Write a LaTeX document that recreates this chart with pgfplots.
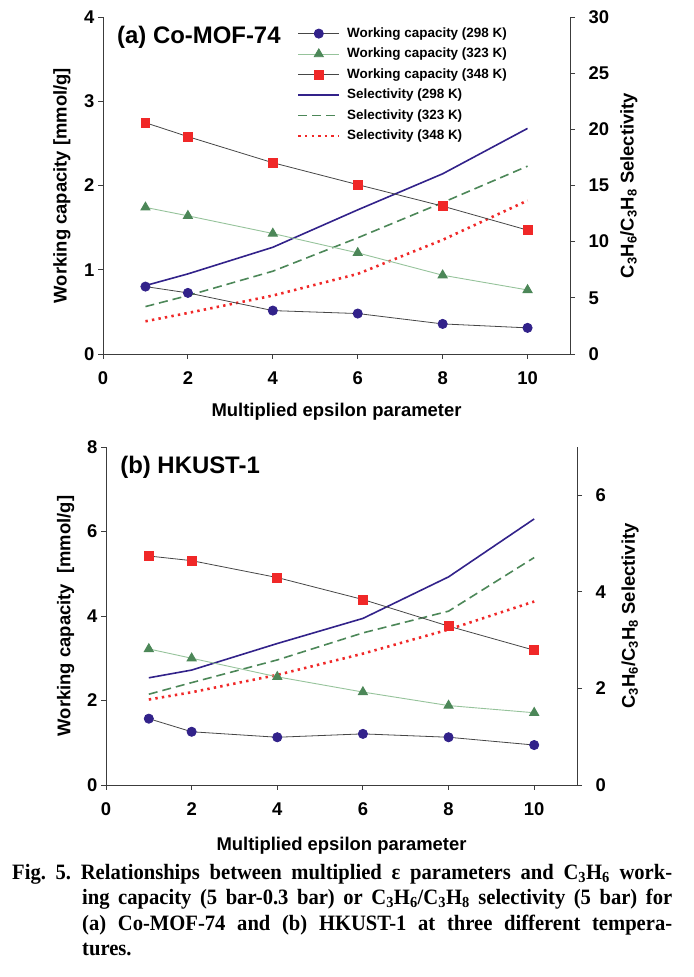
\documentclass[border=0pt]{standalone}
\usepackage{pgfplots}
\pgfplotsset{compat=1.18}
\usepackage{fontspec}
\setmainfont{Liberation Sans}
\newfontfamily\capfont[FakeStretch=0.94]{Liberation Serif}
\definecolor{cindigo}{RGB}{50,34,138}
\definecolor{cgreen}{RGB}{76,135,88}
\definecolor{clgreen}{RGB}{150,195,155}
\definecolor{cred}{RGB}{240,40,40}
\definecolor{cgray}{RGB}{70,70,70}
\definecolor{axisgray}{RGB}{60,60,60}

\pgfplotsset{
  twin/.style={
    scale only axis, xmin=0, xmax=11,
    tick align=outside, major tick length=5bp,
    axis line style={-, draw=axisgray, line width=0.9bp},
    tick style={draw=axisgray, line width=0.9bp},
    /pgf/number format/assume math mode=true,
    tick label style={font=\bfseries\fontsize{18.5}{18.5}\selectfont},
    label style={font=\bfseries\fontsize{18.5}{19}\selectfont},
  },
  wc298/.style={draw=cgray, line width=0.8bp, mark=*, mark size=4.6bp, mark options={draw=cindigo, fill=cindigo, solid}},
  wc323/.style={draw=clgreen, line width=0.9bp, mark=triangle*, mark size=5.2bp, mark options={draw=cgreen, fill=cgreen, solid}},
  wc348/.style={draw=cgray, line width=0.8bp, mark=square*, mark size=4.4bp, mark options={draw=cred, fill=cred, solid}},
  s298/.style={draw=cindigo, line width=1.6bp, no markers},
  s323/.style={draw=cgreen, line width=1.6bp, dash pattern=on 9bp off 5bp, no markers},
  s348/.style={draw=cred, line width=2.6bp, dash pattern=on 2.4bp off 4.2bp, no markers},
}

\begin{document}
\begin{tikzpicture}[x=1bp,y=1bp]
\path[use as bounding box] (0,0) rectangle (694,977);

% ---------------- Panel (a) ----------------
\begin{axis}[twin, at={(103bp,623bp)}, anchor=south west, width=467bp, height=337bp,
  axis x line=none, axis y line*=right, ymin=0, ymax=30, ytick={0,5,...,30},
  yticklabel style={xshift=10bp},
  ylabel={C\textsubscript{3}H\textsubscript{6}/C\textsubscript{3}H\textsubscript{8} Selectivity},
  ylabel style={at={(axis description cs:1.10,0.5)}, anchor=north}]
\addplot[s298] coordinates {(1,6.09)(2,7.13)(4,9.5)(6,12.83)(8,16.04)(10,20.08)};
\addplot[s323] coordinates {(1,4.22)(2,5.2)(4,7.37)(6,10.34)(8,13.48)(10,16.72)};
\addplot[s348] coordinates {(1,2.91)(2,3.65)(4,5.2)(6,7.13)(8,10.16)(10,13.66)};
\end{axis}

\begin{axis}[twin, at={(103bp,623bp)}, anchor=south west, width=467bp, height=337bp,
  axis x line*=bottom, axis y line*=left, ymin=0, ymax=4, ytick={0,1,2,3,4},
  xtick={0,2,4,6,8,10}, xticklabel style={yshift=-9bp},
  xlabel={Multiplied epsilon parameter},
  xlabel style={at={(axis description cs:0.5,-0.135)}, anchor=north},
  ylabel={Working capacity [mmol/g]},
  ylabel style={at={(axis description cs:-0.062,0.5)}, anchor=south},
  legend style={at={(axis description cs:0.415,0.975)}, anchor=north west, draw=none, fill=none,
    font=\bfseries\fontsize{13.5}{14}\selectfont, row sep=4.5bp, inner sep=0pt,
    nodes={inner sep=1.5bp, text height=10bp, text depth=3bp},
    /tikz/every odd column/.append style={column sep=5bp}},
  legend cell align=left,
  legend image code/.code={\draw[mark repeat=2, mark phase=2, #1] plot coordinates {(0bp,0bp) (20.5bp,0bp) (41bp,0bp)};}]
\addplot[wc298] coordinates {(1,0.80)(2,0.725)(4,0.515)(6,0.48)(8,0.357)(10,0.31)};
\addlegendentry{Working capacity (298 K)}
\addplot[wc323] coordinates {(1,1.74)(2,1.64)(4,1.43)(6,1.20)(8,0.935)(10,0.76)};
\addlegendentry{Working capacity (323 K)}
\addplot[wc348] coordinates {(1,2.745)(2,2.58)(4,2.27)(6,2.01)(8,1.755)(10,1.47)};
\addlegendentry{Working capacity (348 K)}
\addlegendimage{s298}\addlegendentry{Selectivity (298 K)}
\addlegendimage{s323}\addlegendentry{Selectivity (323 K)}
\addlegendimage{s348}\addlegendentry{Selectivity (348 K)}
\node[anchor=north west, inner sep=0pt, font=\bfseries\fontsize{24}{24}\selectfont] at (axis description cs:0.03,0.972) {(a) Co-MOF-74};
\end{axis}

% ---------------- Panel (b) ----------------
\begin{axis}[twin, at={(106bp,192bp)}, anchor=south west, width=471bp, height=338bp,
  axis x line=none, axis y line*=right, ymin=0, ymax=7, ytick={0,2,4,6},
  yticklabel style={xshift=10bp},
  ylabel={C\textsubscript{3}H\textsubscript{6}/C\textsubscript{3}H\textsubscript{8} Selectivity},
  ylabel style={at={(axis description cs:1.087,0.5)}, anchor=north}]
\addplot[s298] coordinates {(1,2.22)(2,2.38)(4,2.93)(6,3.45)(8,4.31)(10,5.51)};
\addplot[s323] coordinates {(1,1.88)(2,2.12)(4,2.59)(6,3.15)(8,3.6)(10,4.71)};
\addplot[s348] coordinates {(1,1.77)(2,1.92)(4,2.28)(6,2.72)(8,3.22)(10,3.8)};
\end{axis}

\begin{axis}[twin, at={(106bp,192bp)}, anchor=south west, width=471bp, height=338bp,
  axis x line*=bottom, axis y line*=left, ymin=0, ymax=8, ytick={0,2,4,6,8},
  xtick={0,2,4,6,8,10}, xticklabel style={yshift=-9bp},
  xlabel={Multiplied epsilon parameter},
  xlabel style={at={(axis description cs:0.5,-0.145)}, anchor=north},
  ylabel={Working capacity\ \ [mmol/g]},
  ylabel style={at={(axis description cs:-0.06,0.5)}, anchor=south}]
\addplot[wc298] coordinates {(1,1.57)(2,1.26)(4,1.13)(6,1.21)(8,1.13)(10,0.946)};
\addplot[wc323] coordinates {(1,3.22)(2,3.0)(4,2.56)(6,2.20)(8,1.88)(10,1.71)};
\addplot[wc348] coordinates {(1,5.42)(2,5.31)(4,4.91)(6,4.39)(8,3.76)(10,3.19)};
\node[anchor=north west, inner sep=0pt, font=\bfseries\fontsize{24}{24}\selectfont] at (axis description cs:0.03,0.972) {(b) HKUST-1};
\end{axis}

% ---------------- Caption ----------------
\node[anchor=north west, inner sep=0pt, text width=660bp, align=justify,
  font=\capfont\bfseries\fontsize{22}{25.5}\selectfont] at (12bp,113bp)
  {\frenchspacing\hangindent=70bp\hangafter=1 Fig. 5. Relationships between multiplied ε parameters and C\textsubscript{3}H\textsubscript{6} work-\linebreak
   ing capacity (5 bar-0.3 bar) or C\textsubscript{3}H\textsubscript{6}/C\textsubscript{3}H\textsubscript{8} selectivity (5 bar) for\linebreak
   (a) Co-MOF-74 and (b) HKUST-1 at three different tempera-\linebreak
   tures.\par};
\end{tikzpicture}
\end{document}
